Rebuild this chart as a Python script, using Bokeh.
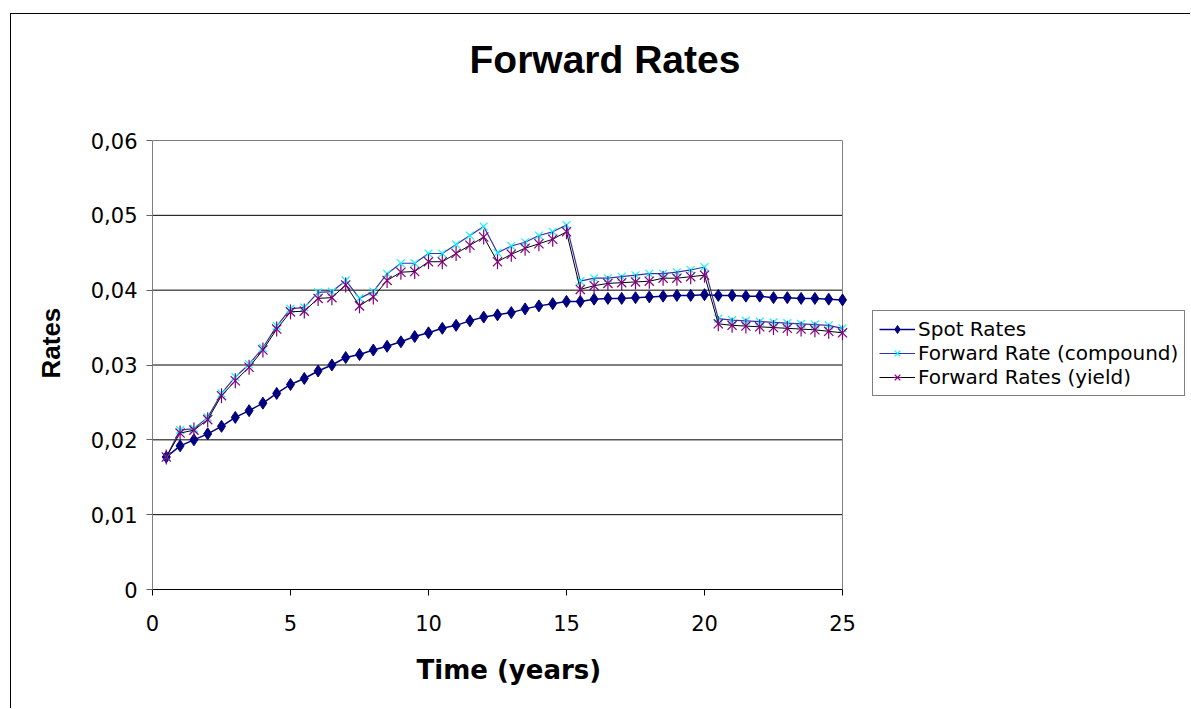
from bokeh.plotting import figure
from bokeh.models import FixedTicker, Legend, LegendItem, Range1d, Title
from bokeh.embed import file_html
from bokeh.resources import INLINE
import math

# Maturities in years
years = [0.5, 1.0, 1.5, 2.0, 2.5, 3.0, 3.5, 4.0, 4.5, 5.0,
         5.5, 6.0, 6.5, 7.0, 7.5, 8.0, 8.5, 9.0, 9.5, 10.0,
         10.5, 11.0, 11.5, 12.0, 12.5, 13.0, 13.5, 14.0, 14.5, 15.0,
         15.5, 16.0, 16.5, 17.0, 17.5, 18.0, 18.5, 19.0, 19.5, 20.0,
         20.5, 21.0, 21.5, 22.0, 22.5, 23.0, 23.5, 24.0, 24.5, 25.0]

spot_rates = [0.0177, 0.0192, 0.0200, 0.0208, 0.0218, 0.0230, 0.0239, 0.0249, 0.0262, 0.0274,
              0.0282, 0.0292, 0.0300, 0.0310, 0.0314, 0.0320, 0.0325, 0.0331, 0.0338, 0.0343,
              0.0349, 0.0353, 0.0359, 0.0364, 0.0367, 0.0370, 0.0375, 0.0379, 0.0382, 0.0385,
              0.0385, 0.0388, 0.0389, 0.0389, 0.0390, 0.0391, 0.0392, 0.0393, 0.0393, 0.0394,
              0.0393, 0.0393, 0.0392, 0.0392, 0.0390, 0.0390, 0.0389, 0.0389, 0.0388, 0.0387]

forward_compound = [0.0177, 0.0213, 0.0215, 0.0230, 0.0262, 0.0284, 0.0301, 0.0323, 0.0352, 0.0375,
                    0.0377, 0.0397, 0.0398, 0.0413, 0.0389, 0.0398, 0.0422, 0.0436, 0.0436, 0.0449,
                    0.0449, 0.0461, 0.0473, 0.0485, 0.0450, 0.0459, 0.0464, 0.0473, 0.0478, 0.0487,
                    0.0412, 0.0416, 0.0416, 0.0418, 0.0420, 0.0422, 0.0422, 0.0424, 0.0427, 0.0431,
                    0.0362, 0.0360, 0.0359, 0.0358, 0.0357, 0.0356, 0.0355, 0.0354, 0.0353, 0.0349]

forward_yield = [0.0177, 0.0209, 0.0213, 0.0227, 0.0259, 0.0279, 0.0297, 0.0320, 0.0348, 0.0371,
                 0.0372, 0.0389, 0.0390, 0.0407, 0.0379, 0.0391, 0.0413, 0.0424, 0.0425, 0.0438,
                 0.0438, 0.0449, 0.0460, 0.0471, 0.0438, 0.0448, 0.0456, 0.0462, 0.0468, 0.0478,
                 0.0401, 0.0406, 0.0409, 0.0410, 0.0411, 0.0412, 0.0416, 0.0416, 0.0418, 0.0420,
                 0.0355, 0.0353, 0.0352, 0.0351, 0.0350, 0.0349, 0.0348, 0.0347, 0.0345, 0.0343]

x_ticks = [0, 5, 10, 15, 20, 25]
y_ticks = [0, 0.01, 0.02, 0.03, 0.04, 0.05, 0.06]
y_tick_labels = ["0", "0,01", "0,02", "0,03", "0,04", "0,05", "0,06"]

series_names = ["Spot Rates", "Forward Rate (compound)", "Forward Rates (yield)"]

X_MIN, X_MAX = 0, 25
Y_MIN, Y_MAX = 0, 0.06

# The frame runs to the right edge so the legend can sit beside the plot area;
# the plot area itself (axis, grid, border) is bounded to 0..25 years.
FRAME_W = 1180 - 141
PLOT_W = 690
x_view_end = X_MAX * FRAME_W / PLOT_W

p = figure(
    width=1180, height=695,
    x_range=Range1d(X_MIN, x_view_end), y_range=Range1d(Y_MIN, Y_MAX),
    output_backend="svg", toolbar_location=None,
    min_border_left=141, min_border_right=0,
    min_border_top=126, min_border_bottom=120,
    margin=(13, 0, 0, 10),
    styles={"border-left": "1px solid black", "border-top": "1px solid black"},
    background_fill_color="white", border_fill_color="white",
    outline_line_color=None,
)

# horizontal grid lines limited to the plot area
p.xgrid.visible = False
p.ygrid.visible = False
grid_levels = [t for t in y_ticks if t > Y_MIN]
p.segment(x0=[X_MIN] * len(grid_levels), y0=grid_levels,
          x1=[X_MAX] * len(grid_levels), y1=grid_levels,
          line_color="black", line_width=1)
# right edge of the plot area
p.segment(x0=[X_MAX], y0=[Y_MIN], x1=[X_MAX], y1=[Y_MAX],
          line_color="#808080", line_width=1)

# axes
p.xaxis.ticker = FixedTicker(ticks=x_ticks)
p.xaxis.bounds = (X_MIN, X_MAX)
p.yaxis.ticker = FixedTicker(ticks=y_ticks)
p.yaxis.major_label_overrides = dict(zip(y_ticks, y_tick_labels))
for ax in (p.xaxis, p.yaxis):
    ax.minor_tick_line_color = None
    ax.major_tick_in = 0
    ax.major_tick_out = 6
    ax.major_label_text_font = "DejaVu Sans"
    ax.major_label_text_font_size = "21px"
    ax.major_label_text_color = "black"
p.xaxis.axis_line_color = "black"
p.xaxis.major_tick_line_color = "black"
p.xaxis.major_label_standoff = 19
p.yaxis.axis_line_color = "#808080"
p.yaxis.major_tick_line_color = "#606060"
p.yaxis.major_label_standoff = 9

# series
spot_line = p.line(years, spot_rates, line_color="#000080", line_width=1.5)
spot_mark = p.scatter(years, spot_rates, marker="diamond", size=12,
                      fill_color="#000080", line_color="#000080")

comp_line = p.line(years, forward_compound, line_color="#3333AA", line_width=1.2)
comp_mark = p.scatter(years, forward_compound, marker="x", size=11,
                      line_color="#00FFFF", line_width=1.2)

yld_line = p.line(years, forward_yield, line_color="#000000", line_width=1)
yld_x = p.scatter(years, forward_yield, marker="x", size=13,
                  line_color="#800080", line_width=1.2)
yld_bar = p.scatter(years, forward_yield, marker="dash", size=15, angle=math.pi / 2,
                    line_color="#800080", line_width=1.2)

legend = Legend(
    items=[
        LegendItem(label=series_names[0], renderers=[spot_line, spot_mark]),
        LegendItem(label=series_names[1], renderers=[comp_line, comp_mark]),
        LegendItem(label=series_names[2], renderers=[yld_line, yld_x, yld_bar]),
    ],
    location=(720, 193),
    orientation="vertical",
    border_line_color="black", border_line_width=1,
    background_fill_color="white", background_fill_alpha=1,
    label_text_font="DejaVu Sans", label_text_font_size="20px",
    label_text_color="black",
    glyph_width=36, glyph_height=20, label_height=20,
    label_standoff=3, spacing=0, padding=6, margin=0,
)
p.add_layout(legend, "center")

# titles (a thin spacer keeps each title clear of the plot area)
p.title.visible = False
p.add_layout(Title(text=" ", text_font_size="1px", standoff=52), "above")
p.add_layout(Title(text="Forward Rates", align="left", offset=317, standoff=10,
                   text_font="Liberation Sans", text_font_size="39px",
                   text_font_style="bold", text_color="black"), "above")
p.add_layout(Title(text=" ", text_font_size="1px", standoff=11), "below")
p.add_layout(Title(text="Time (years)", align="left", offset=264, standoff=10,
                   text_font="DejaVu Sans", text_font_size="26px",
                   text_font_style="bold", text_color="black"), "below")
p.add_layout(Title(text="Rates", align="left", offset=211, standoff=44,
                   text_font="Liberation Sans", text_font_size="26px",
                   text_font_style="bold", text_color="black"), "left")

open("out.html", "w").write(file_html(p, INLINE))
